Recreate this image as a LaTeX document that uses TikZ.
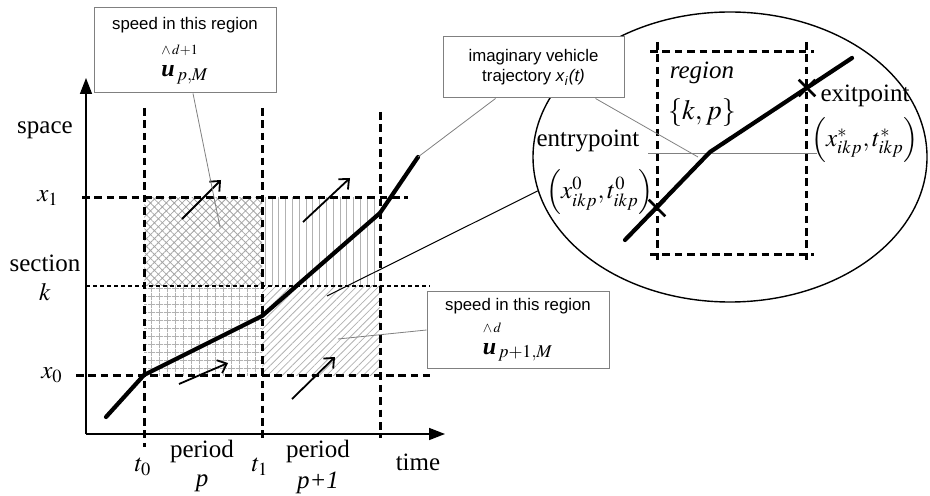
\documentclass[tikz,border=0pt]{standalone}
\usepackage{amsmath}
\usepackage{mathptmx}
\usepackage{fontspec}
\setmainfont{Liberation Serif}
\setsansfont{Liberation Sans}
\usetikzlibrary{arrows.meta, patterns.meta, shapes.geometric, shapes.misc}
\tikzset{
  gridline/.style={line width=1.5pt, dash pattern=on 3.8pt off 2.4pt},
  secline/.style={line width=0.7pt, dash pattern=on 2pt off 1.5pt},
  trajline/.style={line width=2.1pt, line cap=round, line join=round},
  speedarrow/.style={-{Straight Barb[length=4pt,width=7pt]}, line width=0.9pt},
  axisline/.style={-{Triangle[length=8pt,width=6pt]}, line width=0.8pt},
  callout/.style={
    draw=gray, fill=white, line width=0.5pt,
    font=\sffamily\fontsize{8.4}{10}\selectfont,
    align=center, inner sep=2pt,
  },
  leader/.style={gray, line width=0.4pt},
  lbl/.style={font=\fontsize{12.5}{14}\selectfont, inner sep=0pt},
  crossmark/.style={draw, cross out, line width=1.3pt, minimum size=7pt, inner sep=0pt},
  zoomring/.style={draw, ellipse, line width=0.7pt, minimum width=197pt, minimum height=145pt, inner sep=0pt},
}
\newcommand{\speedsym}[2]{%
  \begin{tabular}{@{}l@{}}
    {\rmfamily\fontsize{7}{7}\selectfont$\wedge\,#1$}\\[1pt]
    {\rmfamily\fontsize{12}{12}\selectfont\textbf{\textit{u}}$_{\,#2}$}
  \end{tabular}}

\begin{document}
\begin{tikzpicture}[x=0.5pt, y=-0.5pt]
  \useasboundingbox (0,0) rectangle (930,496);

  % Regions with patterns
  \fill[pattern={Hatch[angle=45,distance=2.8pt,line width=0.4pt]}, pattern color=gray!70]
    (144,198) rectangle (262,286);
  \fill[pattern={Lines[angle=90,distance=3.4pt,line width=0.5pt]}, pattern color=gray!60]
    (262,198) rectangle (380,286);
  \fill[pattern={Hatch[angle=0,distance=4pt,line width=0.4pt]}, pattern color=gray!60]
    (144,286) rectangle (262,375);
  \fill[pattern={Lines[angle=45,distance=2.6pt,line width=0.4pt]}, pattern color=gray!60]
    (262,286) rectangle (380,375);

  % Axes
  \coordinate (orig) at (86,434);
  \coordinate (ytop) at (86,78);
  \coordinate (xend) at (445,434);
  \draw[axisline] (orig) -- (ytop);
  \draw[axisline] (orig) -- (xend);

  % Period and section boundaries
  \draw[gridline] (144,108) -- (144,447);
  \draw[gridline] (262,108) -- (262,442);
  \draw[gridline] (380,112) -- (380,438);
  \draw[gridline] (82,198) -- (408,198);
  \draw[gridline] (76,375) -- (430,375);
  \draw[secline]  (86,286) -- (430,286);

  % Axis labels
  \node[lbl] (space) at (45,130) {space};
  \node[lbl] (xone)  at (48,198) {$x_1$};
  \node[lbl] (sect)  at (45,263) {section};
  \node[lbl] (kval)  at (45,292) {$k$};
  \node[lbl] (xzero) at (52,375) {$x_0$};
  \node[lbl] (tzero) at (143,467) {$t_0$};
  \node[lbl] (tone)  at (260,467) {$t_1$};
  \node[lbl] (per1)  at (202,451) {period};
  \node[lbl] (pp)    at (202,483) {\textit{p}};
  \node[lbl] (per2)  at (318,451) {period};
  \node[lbl] (pp1)   at (318,483) {\textit{p+1}};
  \node[lbl] (time)  at (418,462) {time};

  % Speed arrows
  \draw[speedarrow] (182,219) -- (221,180);
  \draw[speedarrow] (303,222) -- (350,178);
  \draw[speedarrow] (179,384) -- (228,363);
  \draw[speedarrow] (292,399) -- (335,357);

  % Vehicle trajectory
  \coordinate (tr0) at (106,417);
  \coordinate (tr1) at (144,375);
  \coordinate (tr2) at (262,316);
  \coordinate (tr3) at (380,213);
  \coordinate (tr4) at (418,157);
  \draw[trajline] (tr0) -- (tr1) -- (tr2) -- (tr3) -- (tr4);

  % Magnified region
  \node[zoomring] (zoom) at (730,157) {};
  \draw[gridline] (657,42) -- (657,265);
  \draw[gridline] (806,42) -- (806,265);
  \draw[gridline] (650,52) -- (814,52);
  \draw[gridline] (650,255) -- (814,255);
  \draw[leader] (648,153) -- (817,153);
  \coordinate (zt0) at (625,240);
  \coordinate (zt1) at (710,152);
  \coordinate (zt2) at (852,58);
  \draw[trajline] (zt0) -- (zt1) -- (zt2);
  \node[crossmark] (entry) at (657,208) {};
  \node[crossmark] (exit)  at (807,88) {};
  \node[lbl] (regn)   at (702,73)  {\textit{region}};
  \node[lbl] (kp)     at (702,113) {\fontsize{14}{14}\selectfont$\{k,p\}$};
  \node[lbl] (entl)   at (588,141) {entrypoint};
  \node[lbl] (entc)   at (600,192) {$\left(x_{ikp}^{0},t_{ikp}^{0}\right)$};
  \node[lbl] (exl)    at (865,96)  {exitpoint};
  \node[lbl] (exc)    at (865,140) {$\left(x_{ikp}^{*},t_{ikp}^{*}\right)$};
  \coordinate (zsrc) at (327,296);
  \draw[line width=0.5pt] (zoom.190) -- (zsrc);

  % Callout boxes
  \node[callout, minimum width=91pt, minimum height=42.5pt] (spd1) at (185,50.5)
    {speed in this region\\[3pt]\speedsym{d{+}1}{p,M}};
  \node[callout, minimum width=91pt, minimum height=38pt] (spd2) at (518,330)
    {speed in this region\\[1pt]\speedsym{d}{p+1,M}};
  \node[callout, minimum width=90.5pt, minimum height=30.5pt] (trj) at (533.5,67.5)
    {imaginary vehicle\\trajectory \textit{x}\textsubscript{\textit{i}}\textit{(t)}};

  % Leaders
  \coordinate (hatchpt) at (220,227);
  \coordinate (diagpt) at (338,339);
  \draw[leader] ([xshift=4pt]spd1.south) -- (hatchpt);
  \draw[leader] (spd2.west) -- (diagpt);
  \draw[leader] ([xshift=-19pt]trj.south) -- (tr4);
  \draw[leader] ([xshift=31pt]trj.south) -- (698,157);

\end{tikzpicture}
\end{document}
